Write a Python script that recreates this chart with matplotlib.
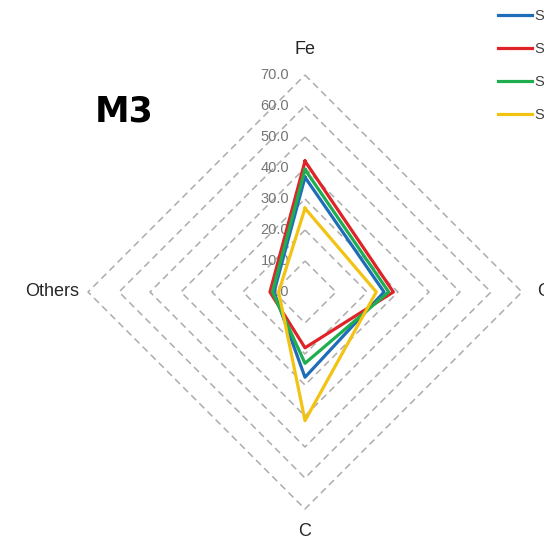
import matplotlib.pyplot as plt
import numpy as np

# radar axes (clockwise from top) and series values, in %
categories = ['Fe', 'O', 'C', 'Others']
series_names = ['S1', 'S2', 'S3', 'S4']
s1 = [37.0, 25.5, 27.5, 10.0]
s2 = [42.2, 28.5, 18.0, 11.3]
s3 = [39.5, 27.0, 23.0, 10.5]
s4 = [27.0, 23.0, 41.5, 8.5]
ring_levels = [10, 20, 30, 40, 50, 60, 70]
tick_values = [0, 10, 20, 30, 40, 50, 60, 70]

colors = ['#1f6db8', '#e02328', '#1fae4f', '#f3c313']

W, H = 544, 542
cx, cy = 305, 292          # centre in pixels
scale = 70 / 217.0         # data units per pixel

fig = plt.figure(figsize=(W / 100, H / 100), dpi=100)
ax = fig.add_axes([0, 0, 1, 1])
ax.set_xlim(-cx * scale, (W - cx) * scale)
ax.set_ylim(-(H - cy) * scale, cy * scale)
ax.axis('off')

angles = np.arange(len(categories)) * 2 * np.pi / len(categories)


def to_xy(vals):
    vals = np.asarray(vals, dtype=float)
    x = vals * np.sin(angles)
    y = vals * np.cos(angles)
    return np.append(x, x[0]), np.append(y, y[0])


# dashed diamond grid
for r in ring_levels:
    gx, gy = to_xy([r] * len(categories))
    ax.plot(gx, gy, color='#ababab', lw=1.1, ls=(0, (4.5, 3)), zorder=1)

# tick labels along the Fe axis
for t in tick_values:
    ax.text(-16 * scale, t, f'{t:.1f}', ha='right', va='center',
            fontsize=10.5, color='#757575', family='Liberation Sans', zorder=2)

# category labels
label_off = [(0, 25), (22, 0), (0, -22), (-9, 0)]
has = ['center', 'center', 'center', 'right']
for i, cat in enumerate(categories):
    x = 70 * np.sin(angles[i]) + label_off[i][0] * scale
    y = 70 * np.cos(angles[i]) + label_off[i][1] * scale
    ax.text(x, y, cat, ha=has[i], va='center', fontsize=13,
            color='#262626', family='Liberation Sans')

# series
for name, vals, c in zip(series_names, [s1, s2, s3, s4], colors):
    px, py = to_xy(vals)
    ax.plot(px, py, color=c, lw=2.3, label=name, zorder=3)

# title
fig.text(124 / W, 1 - 112 / H, 'M3', ha='center', va='center',
         fontsize=25, fontweight='bold', family='DejaVu Sans')

leg = fig.legend(loc='upper left', bbox_to_anchor=(485 / W, 1 + 4 / H),
                 frameon=False, handlelength=2.3,
                 handletextpad=0.2, labelspacing=1.3,
                 prop={'family': 'Liberation Sans', 'size': 10.5})
for txt in leg.get_texts():
    txt.set_color('#404040')

plt.savefig('out.png', dpi=100, facecolor='white')
plt.close()
